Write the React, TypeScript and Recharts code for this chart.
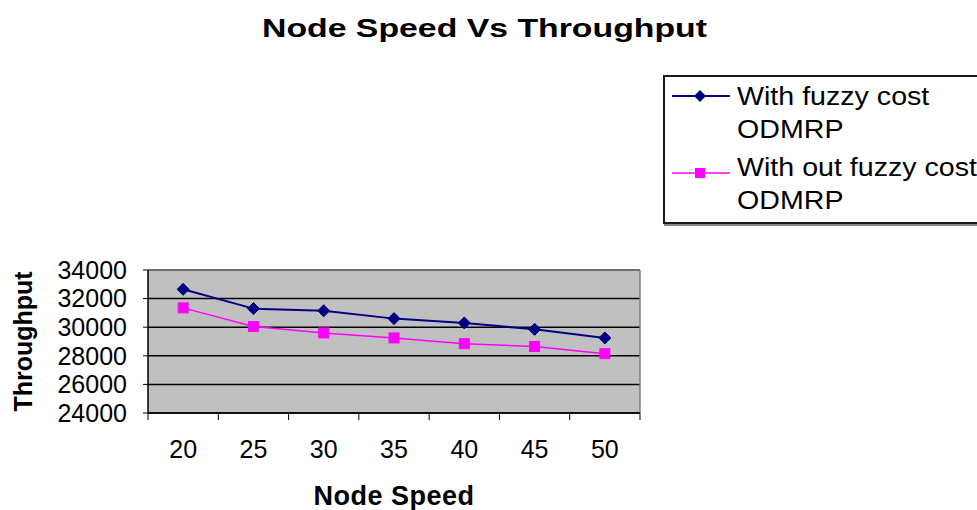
import React from 'react';
import { LineChart, Line, XAxis, YAxis, CartesianGrid, ReferenceLine, Legend } from 'recharts';

const speeds = [20, 25, 30, 35, 40, 45, 50];
const withFuzzy = [32650, 31300, 31150, 30600, 30300, 29850, 29250];
const withoutFuzzy = [31350, 30050, 29600, 29250, 28850, 28650, 28150];
const yTicks = [24000, 26000, 28000, 30000, 32000, 34000];
const seriesNames = ['With fuzzy cost ODMRP', 'With out fuzzy cost ODMRP'];

const halfStep = 2.5;
const edgeTicks = [...speeds.map((s) => s - halfStep), speeds[speeds.length - 1] + halfStep];
const xDomain = [edgeTicks[0], edgeTicks[edgeTicks.length - 1]];

const data = speeds.map((s, i) => ({ speed: s, fuzzy: withFuzzy[i], nofuzzy: withoutFuzzy[i] }));

const FONT = '"Liberation Sans", Arial, Helvetica, sans-serif';
const NAVY = '#000080';
const PINK = '#FF00FF';

const Diamond = (p: any) => {
  const { cx, cy, index } = p;
  if (cx == null || cy == null) return <g key={`d${index}`} />;
  const r = 6;
  return (
    <path
      key={`d${index}`}
      d={`M${cx},${cy - r}L${cx + r},${cy}L${cx},${cy + r}L${cx - r},${cy}Z`}
      fill={NAVY}
      stroke={NAVY}
      strokeWidth={1}
    />
  );
};

const Square = (p: any) => {
  const { cx, cy, index } = p;
  if (cx == null || cy == null) return <g key={`s${index}`} />;
  const r = 5;
  return <rect key={`s${index}`} x={cx - r} y={cy - r} width={2 * r} height={2 * r} fill={PINK} stroke={PINK} />;
};

const legendLineY = [16, 22];

const LegendBox = (props: any) => {
  const payload = props.payload || [];
  return (
    <div
      style={{
        border: '2px solid #1a1a1a',
        boxShadow: '1px 2px 0 #888',
        background: '#fff',
        paddingTop: 3,
        paddingBottom: 5,
        width: 340,
        boxSizing: 'border-box',
        fontFamily: FONT,
      }}
    >
      {payload.map((entry: any, i: number) => {
        const isFuzzy = entry.dataKey === 'fuzzy';
        const color = entry.color;
        return (
          <div key={i} style={{ position: 'relative', paddingLeft: 72, marginTop: i === 0 ? 0 : 5, height: 66 }}>
            <svg
              width={60}
              height={14}
              style={{ position: 'absolute', left: 7, top: legendLineY[i] - 7 }}
            >
              <line x1={0} y1={7} x2={58} y2={7} stroke={color} strokeWidth={isFuzzy ? 2 : 1.5} />
              {isFuzzy ? (
                <path d="M28,1L34,7L28,13L22,7Z" fill={NAVY} />
              ) : (
                <rect x={23} y={2} width={10} height={10} fill={PINK} />
              )}
            </svg>
            <div
              style={{
                width: 232,
                fontSize: 26,
                lineHeight: '33px',
                color: '#000',
                transform: 'scaleX(1.1)',
                transformOrigin: 'left top',
              }}
            >
              {entry.value}
            </div>
          </div>
        );
      })}
    </div>
  );
};

const YTitle = (props: any) => {
  const vb = props.viewBox || { x: 0, y: 0, width: 0, height: 0 };
  const x = vb.x + 32;
  const y = vb.y + vb.height / 2;
  return (
    <text
      x={x}
      y={y}
      transform={`rotate(-90, ${x}, ${y})`}
      textAnchor="middle"
      fontFamily={FONT}
      fontWeight="bold"
      fontSize={25}
      fill="#000"
    >
      Throughput
    </text>
  );
};

const XTitle = (props: any) => {
  const vb = props.viewBox || { x: 0, y: 0, width: 0, height: 0 };
  return (
    <text
      x={vb.x + vb.width / 2}
      y={505}
      textAnchor="middle"
      fontFamily={FONT}
      fontWeight="bold"
      fontSize={27}
      letterSpacing={0.5}
      fill="#000"
    >
      Node Speed
    </text>
  );
};

export default function App() {
  return (
    <div style={{ position: 'absolute', left: 0, top: 0, width: 977, height: 510, overflow: 'hidden', background: '#fff' }}>
      <div
        style={{
          position: 'absolute',
          left: -4,
          top: 15,
          width: 977,
          textAlign: 'center',
          fontFamily: FONT,
          fontWeight: 'bold',
          fontSize: 26,
          lineHeight: '26px',
          color: '#000',
          transform: 'scaleX(1.3)',
          transformOrigin: 'center top',
          whiteSpace: 'nowrap',
        }}
      >
        Node Speed Vs Throughput
      </div>
      <LineChart width={977} height={510} data={data} margin={{ top: 270, right: 337, bottom: 0, left: 0 }}>
        <CartesianGrid horizontal vertical={false} fill="#C0C0C0" stroke="#000" strokeWidth={1.5} fillOpacity={1} />
        <XAxis
          xAxisId="edges"
          dataKey="speed"
          type="number"
          domain={xDomain}
          ticks={edgeTicks}
          height={8}
          tickSize={7}
          tickLine={{ stroke: '#000', strokeWidth: 1 }}
          axisLine={{ stroke: '#000', strokeWidth: 1.5 }}
          tickFormatter={() => ''}
          interval={0}
        />
        <XAxis
          xAxisId="labels"
          dataKey="speed"
          type="number"
          domain={xDomain}
          ticks={speeds}
          height={89}
          tickLine={false}
          axisLine={false}
          tickSize={6}
          tickMargin={13}
          interval={0}
          tick={{ fontSize: 25, fill: '#000', fontFamily: FONT }}
          label={<XTitle />}
        />
        <YAxis
          type="number"
          domain={[yTicks[0], yTicks[yTicks.length - 1]]}
          ticks={yTicks}
          width={148}
          tickSize={5}
          tickMargin={16}
          interval={0}
          tickLine={{ stroke: '#000', strokeWidth: 1 }}
          axisLine={{ stroke: '#000', strokeWidth: 1.5 }}
          tick={{ fontSize: 25, fill: '#000', fontFamily: FONT }}
          label={<YTitle />}
        />
        <ReferenceLine y={yTicks[yTicks.length - 1]} xAxisId="edges" stroke="#808080" strokeWidth={1.5} />
        <ReferenceLine x={xDomain[1]} xAxisId="edges" stroke="#808080" strokeWidth={1.5} />
        <Line
          xAxisId="edges"
          type="linear"
          dataKey="fuzzy"
          name={seriesNames[0]}
          stroke={NAVY}
          strokeWidth={2}
          dot={Diamond}
          activeDot={false}
          isAnimationActive={false}
        />
        <Line
          xAxisId="edges"
          type="linear"
          dataKey="nofuzzy"
          name={seriesNames[1]}
          stroke={PINK}
          strokeWidth={1.5}
          dot={Square}
          activeDot={false}
          isAnimationActive={false}
        />
        <Legend
          layout="horizontal"
          verticalAlign="middle"
          align="center"
          content={<LegendBox />}
          wrapperStyle={{ left: 663, top: 75, width: 340, height: 'auto' }}
        />
      </LineChart>
    </div>
  );
}
